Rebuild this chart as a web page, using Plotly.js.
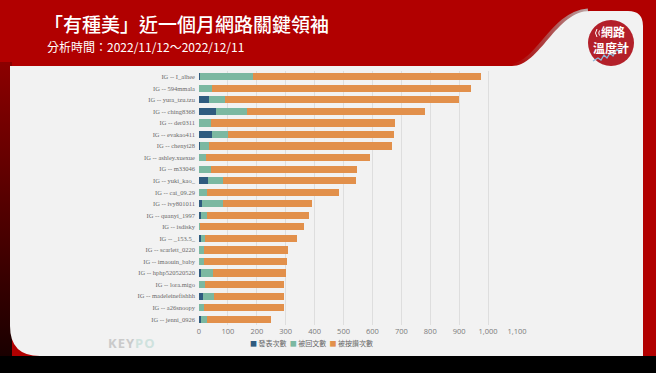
<!DOCTYPE html>
<html><head><meta charset="utf-8">
<script src="https://cdn.plot.ly/plotly-3.0.1.min.js"></script>
<style>
html,body{margin:0;padding:0;width:656px;height:373px;overflow:hidden;background:#000;}
#bg{position:absolute;left:0;top:0;}
#chart{position:absolute;left:0;top:0;width:656px;height:373px;}
.t{position:absolute;font-family:"Noto Sans CJK TC","Noto Sans",sans-serif;color:#fff;white-space:nowrap;}
</style></head>
<body>
<svg id="bg" width="656" height="373" xmlns="http://www.w3.org/2000/svg">
  <defs>
    <linearGradient id="lg" x1="0" y1="0" x2="0" y2="1">
      <stop offset="0" stop-color="#8c0000"/><stop offset="1" stop-color="#1a0000"/>
    </linearGradient>
    <linearGradient id="sh" x1="0" y1="0" x2="1" y2="0">
      <stop offset="0" stop-color="#9a9a9a" stop-opacity="0"/><stop offset="1" stop-color="#bdbdbd" stop-opacity="0.9"/>
    </linearGradient>
  </defs>
  <rect x="0" y="0" width="656" height="373" fill="#000"/>
  <rect x="0" y="0" width="656" height="356" fill="#b10000"/>
  <rect x="0" y="62" width="12" height="294" fill="url(#lg)"/>
  <path d="M512,66 C540,62 552,14 588,11" fill="none" stroke="url(#sh)" stroke-width="5"/>
  <path d="M10,66 H512 C540,66 556,11 590,11 H628 Q643,11 643,26 V356 H40 Q10,356 10,326 Z" fill="#f2f2f2"/>
  <circle cx="611" cy="43" r="23" fill="#b3202a"/>
  <polyline points="593,61 598,58 601,60 604,55 607,58 610,53 613,56 617,49 620,52 625,45" fill="none" stroke="#8fb7d8" stroke-width="1.3"/>
  <path d="M597,29 Q594,33 597,37 M599.5,30.5 Q598,33 599.5,35.5" fill="none" stroke="#fff" stroke-width="1"/>
</svg>
<div class="t" style="left:44px;top:11px;font-size:19px;line-height:26px;font-weight:500;">「有種美」近一個月網路關鍵領袖</div>
<div class="t" style="left:47px;top:39px;font-size:12px;line-height:16px;">分析時間：2022/11/12～2022/12/11</div>
<div class="t" style="left:601px;top:25px;font-size:12px;line-height:13px;font-weight:700;">網路</div>
<div class="t" style="left:593px;top:41px;font-size:12px;line-height:13px;font-weight:700;">溫度計</div>
<div class="t" style="left:108px;top:335px;font-size:13px;line-height:16px;font-weight:700;letter-spacing:1px;font-family:'Open Sans',sans-serif;"><span style="color:#cacaca">KEY</span><span style="color:#cfe2de">PO</span></div>
<div id="chart"></div>
<script>
const names = ["IG -- I_alhee","IG -- 594mmala","IG -- yura_tzu.tzu","IG -- ching8368","IG -- der0311","IG -- evakao411","IG -- chenyi28","IG -- ashley.xuexue","IG -- m33046","IG -- yuki_kao_","IG -- cai_09.29","IG -- ivy801011","IG -- quanyi_1997","IG -- isdisky","IG -- _153.5_","IG -- scarlett_0220","IG -- imaouin_baby","IG -- hphp520520520","IG -- lora.migo","IG -- madeleinefishhh","IG -- a26snoopy","IG -- jenni_0926"];
const posts   = [2,1,35,60,1,46,3,1,1,31,1,11,6,0,8,1,1,7,1,14,1,6];
const replies = [186,45,54,105,39,55,32,22,39,53,26,73,21,2,14,16,16,41,20,38,16,21];
const likes   = [788,894,811,616,637,575,634,567,505,460,458,308,353,362,317,292,288,252,272,241,276,221];
const seriesNames = ["發表次數","被回文數","被按讚次數"];
const seriesColors = ["#2f5b7f","#7bb8a1","#e2904b"];
const xTicks = [0,100,200,300,400,500,600,700,800,900,1000,1100];

const values = [posts, replies, likes];
const traces = values.map((v,i)=>({
  type:"bar", orientation:"h", y:names, x:v, name:seriesNames[i],
  marker:{color:seriesColors[i]}, hoverinfo:"x+y+name"
}));

const legendText = seriesNames.map((n,i)=>`<span style="color:${seriesColors[i]}">■</span> ${n}`).join("  ");

const layout = {
  width:656, height:373,
  margin:{l:199, r:139, t:71, b:48},
  paper_bgcolor:"rgba(0,0,0,0)", plot_bgcolor:"rgba(0,0,0,0)",
  barmode:"stack", bargap:0.38, showlegend:false,
  xaxis:{range:[0,1100], tickvals:xTicks, tickformat:",d", showgrid:true, gridcolor:"#dedede", gridwidth:1,
         zeroline:false, showline:false, ticks:"", tickfont:{family:"Open Sans, sans-serif", size:7.5, color:"#7a7a7a"}},
  yaxis:{autorange:"reversed", showgrid:false, zeroline:false, showline:false, ticks:"", ticklabelstandoff:3,
         tickfont:{family:"Liberation Serif, serif", size:6.5, color:"#6a6a6a"}},
  annotations:[{xref:"paper", yref:"paper", x:0.355, y:-0.071, xanchor:"center", yanchor:"middle",
    showarrow:false, text:legendText, font:{family:"Noto Sans CJK TC, sans-serif", size:7, color:"#666"}}]
};
Plotly.newPlot("chart", traces, layout, {displayModeBar:false, staticPlot:true});
</script>
</body></html>
